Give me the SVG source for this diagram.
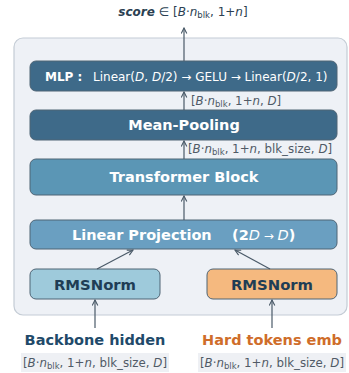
<svg xmlns="http://www.w3.org/2000/svg" width="349" height="373" viewBox="0 0 349 373">
<defs>
<marker id="ah" viewBox="0 0 10 10" refX="9" refY="5" markerWidth="7" markerHeight="7" orient="auto-start-reverse" markerUnits="userSpaceOnUse">
<path d="M1,1 L9,5 L1,9" fill="none" stroke="#4a5a68" stroke-width="1.6"/>
</marker>
<style>
text{font-family:"DejaVu Sans","Liberation Sans",sans-serif;}
.box{stroke:#4e6475;stroke-width:1;}
.dark{fill:#3e6a89;}
.mid{fill:#5b96b5;}
.lp{fill:#6a9fc1;}
.t{fill:#fff;font-weight:bold;font-size:14.5px;text-anchor:middle;}
.ts{fill:#fff;font-weight:bold;font-size:14.5px;text-anchor:start;}
.rt{fill:#1f3d55;font-weight:bold;font-size:14.8px;text-anchor:middle;}
.lbl{fill:#505a66;font-size:11.8px;}
.conn line{stroke:#4a5a68;stroke-width:1.2;marker-end:url(#ah);}
</style>
</defs>
<rect x="14" y="38" width="333" height="277" rx="9" fill="#eef1f6" stroke="#c4ccd5" stroke-width="1.2"/>
<text x="183" y="16" text-anchor="middle" font-size="12" fill="#2b3f52"><tspan font-weight="bold" font-style="italic">score</tspan> ∈ [<tspan font-style="italic">B</tspan>·<tspan font-style="italic">n</tspan><tspan font-size="8.5" dy="2">blk</tspan><tspan dy="-2">, 1+</tspan><tspan font-style="italic">n</tspan>]</text>
<g id="mlp">
<rect class="box dark" x="30" y="61" width="307" height="30" rx="6"/>
<text x="45" y="81" font-size="12" fill="#fff" font-weight="bold">MLP :</text>
<text x="93" y="81" font-size="12" fill="#fff">Linear(<tspan font-style="italic">D</tspan>, <tspan font-style="italic">D</tspan>/2) → GELU → Linear(<tspan font-style="italic">D</tspan>/2, 1)</text>
</g>
<g id="meanpool">
<rect class="box dark" x="30" y="110" width="307" height="30" rx="6"/>
<text class="t" x="184" y="130">Mean-Pooling</text>
</g>
<g id="transformer">
<rect class="box mid" x="30" y="159" width="307" height="36" rx="6"/>
<text class="t" x="184" y="182">Transformer Block</text>
</g>
<g id="linproj">
<rect class="box lp" x="30" y="220" width="307" height="29" rx="6"/>
<text class="ts" x="72" y="240">Linear Projection</text>
<text class="ts" x="232" y="240">(2<tspan font-style="italic" font-weight="normal">D</tspan><tspan font-weight="normal" font-size="12"> → </tspan><tspan font-style="italic" font-weight="normal">D</tspan>)</text>
</g>
<g id="rms1">
<rect class="box" fill="#9ecadb" x="30" y="269" width="130" height="30" rx="6"/>
<text class="rt" x="95" y="289.5">RMSNorm</text>
</g>
<g id="rms2">
<rect class="box" fill="#f5b97f" x="207" y="269" width="130" height="30" rx="6"/>
<text class="rt" x="272" y="289.5">RMSNorm</text>
</g>
<g id="backbone">
<text x="95" y="345" text-anchor="middle" font-size="14.5" font-weight="bold" fill="#1f4a6a">Backbone hidden</text>
<rect x="21" y="353" width="148" height="19" fill="#eef0f4"/>
<text class="lbl" x="95" y="367" text-anchor="middle">[<tspan font-style="italic">B</tspan>·<tspan font-style="italic">n</tspan><tspan font-size="8.5" dy="2">blk</tspan><tspan dy="-2">, 1+</tspan><tspan font-style="italic">n</tspan>, blk_size, <tspan font-style="italic">D</tspan>]</text>
</g>
<g id="hardtok">
<text x="272" y="345" text-anchor="middle" font-size="14.5" font-weight="bold" fill="#cf6d2a">Hard tokens emb</text>
<rect x="198" y="353" width="148" height="19" fill="#eef0f4"/>
<text class="lbl" x="272" y="367" text-anchor="middle">[<tspan font-style="italic">B</tspan>·<tspan font-style="italic">n</tspan><tspan font-size="8.5" dy="2">blk</tspan><tspan dy="-2">, 1+</tspan><tspan font-style="italic">n</tspan>, blk_size, <tspan font-style="italic">D</tspan>]</text>
</g>
<g class="conn">
<line x1="184" y1="61" x2="184" y2="28"/>
<line x1="184" y1="110" x2="184" y2="92"/>
<line x1="184" y1="159" x2="184" y2="141"/>
<line x1="184" y1="220" x2="184" y2="196"/>
<line x1="97" y1="269" x2="133" y2="250"/>
<line x1="270" y1="269" x2="235" y2="250"/>
<line x1="95" y1="328" x2="95" y2="300"/>
<line x1="272" y1="328" x2="272" y2="300"/>
</g>
<text class="lbl" x="191" y="105">[<tspan font-style="italic">B</tspan>·<tspan font-style="italic">n</tspan><tspan font-size="8.5" dy="2">blk</tspan><tspan dy="-2">, 1+</tspan><tspan font-style="italic">n</tspan>, <tspan font-style="italic">D</tspan>]</text>
<text class="lbl" x="188" y="153">[<tspan font-style="italic">B</tspan>·<tspan font-style="italic">n</tspan><tspan font-size="8.5" dy="2">blk</tspan><tspan dy="-2">, 1+</tspan><tspan font-style="italic">n</tspan>, blk_size, <tspan font-style="italic">D</tspan>]</text>
</svg>
